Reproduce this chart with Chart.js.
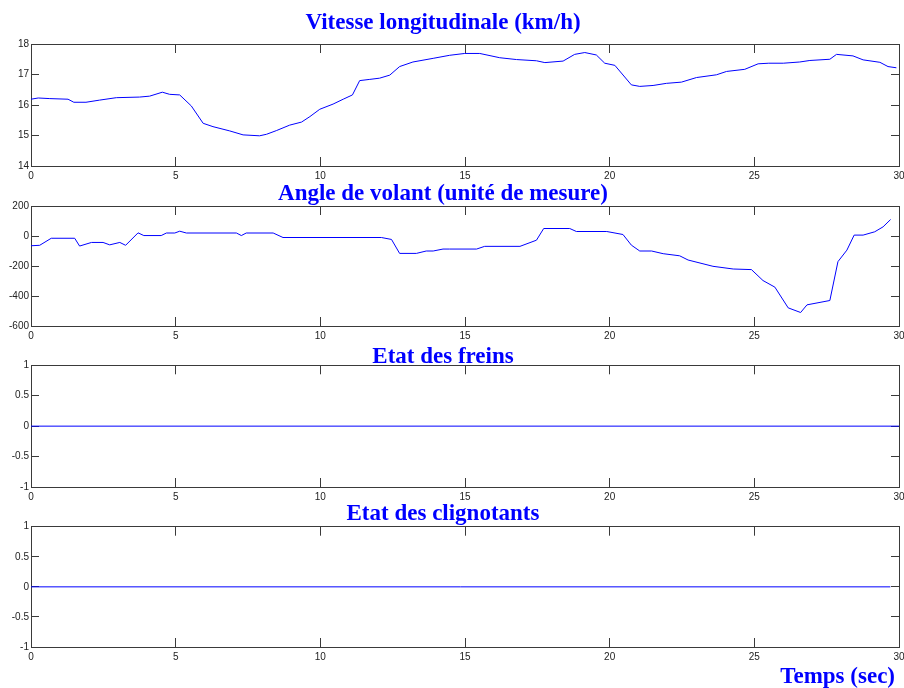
<!DOCTYPE html>
<html lang="fr">
<head>
<meta charset="UTF-8">
<title>Vitesse, volant, freins et clignotants</title>
<script src="https://cdn.jsdelivr.net/npm/chart.js"></script>
<style>
    body {
        margin: 0;
        background: #ffffff;
    }
    #figure {
        position: relative;
        width: 904px;
        height: 688px;
        overflow: hidden;
    }
    #figure canvas {
        position: absolute;
        left: 0;
    }
</style>
</head>
<body>
<div id="figure">
    <canvas id="vitesse" width="904" height="186" style="top:0px"></canvas>
    <canvas id="volant" width="904" height="174" style="top:172px"></canvas>
    <canvas id="freins" width="904" height="177" style="top:330px"></canvas>
    <canvas id="clignotants" width="904" height="199" style="top:490px"></canvas>
</div>

<script>
// temps (s) et vitesse longitudinale (km/h)
const tempsVitesse = [0, 0.25, 0.65, 1.28, 1.48, 1.9, 2.37, 2.95, 3.75, 4.1, 4.54, 4.79, 5.14, 5.54, 5.95, 6.29, 6.87, 7.33, 7.9, 8.14,
    8.48, 8.94, 9.35, 9.64, 9.98, 10.44, 10.79, 11.11, 11.36, 11.71, 12.05, 12.4, 12.74, 13.2, 13.9, 14.47, 14.99, 15.51, 16.2, 16.78,
    17.47, 17.76, 18.39, 18.79, 19.14, 19.54, 19.83, 20.18, 20.75, 21.04, 21.5, 21.96, 22.48, 23.0, 23.69, 24.04, 24.67, 25.13, 25.5, 26.0,
    26.57, 26.92, 27.61, 27.84, 28.41, 28.76, 29.34, 29.62, 29.91];
const vitesse = [16.19, 16.23, 16.21, 16.19, 16.09, 16.09, 16.16, 16.24, 16.26, 16.29, 16.42, 16.35, 16.33, 15.97, 15.40, 15.29, 15.15, 15.02, 14.99, 15.04,
    15.16, 15.34, 15.44, 15.62, 15.86, 16.03, 16.19, 16.33, 16.80, 16.84, 16.88, 16.98, 17.26, 17.41, 17.53, 17.63, 17.69, 17.69, 17.55, 17.49,
    17.45, 17.39, 17.44, 17.66, 17.72, 17.64, 17.37, 17.30, 16.66, 16.61, 16.64, 16.71, 16.75, 16.90, 16.99, 17.10, 17.17, 17.35, 17.37, 17.37,
    17.41, 17.46, 17.50, 17.66, 17.61, 17.48, 17.40, 17.26, 17.22];

// temps (s) et angle de volant
const tempsVolant = [0, 0.3, 0.7, 1.51, 1.68, 2.09, 2.49, 2.72, 3.07, 3.27, 3.7, 3.9, 4.5, 4.68, 4.97, 5.14, 5.37, 7.1, 7.27, 7.44,
    8.37, 8.71, 12.11, 12.46, 12.74, 13.32, 13.66, 13.9, 14.24, 14.47, 15.4, 15.68, 16.9, 17.47, 17.72, 18.62, 18.85, 19.9, 20.46, 20.75,
    21.04, 21.45, 21.85, 22.42, 22.71, 23.57, 24.27, 24.9, 25.3, 25.71, 26.17, 26.6, 26.82, 27.61, 27.89, 28.2, 28.45, 28.76, 29.16, 29.45,
    29.71];
const angleVolant = [-65, -62, -15, -15, -67, -43, -43, -59, -43, -62, 21, 3, 3, 20, 20, 32, 20, 20, 3, 20,
    20, -10, -10, -23, -116, -116, -100, -100, -87, -87, -87, -69, -69, -28, 50, 50, 30, 30, 10, -61,
    -100, -100, -118, -132, -160, -202, -220, -224, -297, -341, -479, -510, -459, -430, -171, -94, 6, 6, 28, 61,
    110];

// freins et clignotants : toujours 0
const tempsFreins = [0, 30];
const etatFreins = [0, 0];
const tempsClignotants = [0, 29.7];
const etatClignotants = [0, 0];

// graduations
const ticksTemps = [0, 5, 10, 15, 20, 25, 30];
const ticksVitesse = [14, 15, 16, 17, 18];
const ticksVolant = [-600, -400, -200, 0, 200];
const ticksEtat = [-1, -0.5, 0, 0.5, 1];

const bleu = '#0000ff';
const gris = '#3a3a3a';
const policeTicks = { family: "'Liberation Sans', Arial, sans-serif", size: 10 };
const policeTitre = { family: "'Liberation Serif', 'Times New Roman', serif", size: 23, weight: 'bold', lineHeight: '14px' };

// le titre est centre un peu a gauche du milieu des axes
const decalageTitre = {
    id: 'decalageTitre',
    afterLayout(chart, args, opts) {
        if (chart.titleBlock) {
            chart.titleBlock.left = 0;
            chart.titleBlock.right = opts.centre * 2;
        }
    }
};

const ticksDe = liste => scale => { scale.ticks = liste.map(v => ({ value: v })); };

function axe(position, graduations, montrer, taille, longueurTick) {
    const horizontal = position === 'top' || position === 'bottom';
    return {
        type: 'linear',
        position: position,
        min: graduations[0],
        max: graduations[graduations.length - 1],
        afterBuildTicks: ticksDe(graduations),
        ticks: {
            display: montrer,
            color: '#222',
            font: policeTicks,
            padding: horizontal ? 13 : 10,
            autoSkip: false,
            maxRotation: 0,
            callback: v => String(v)
        },
        grid: {
            drawOnChartArea: false,
            tickLength: -longueurTick,
            tickColor: gris,
            tickWidth: 1
        },
        border: { color: gris, width: 1 },
        afterFit: scale => {
            if (horizontal) scale.height = taille; else scale.width = taille;
            scale.paddingLeft = 0;
            scale.paddingRight = 0;
            scale.paddingTop = 0;
            scale.paddingBottom = 0;
        }
    };
}

function tracer(id, temps, valeurs, graduationsY, cfg) {
    const points = temps.map((t, i) => ({ x: t, y: valeurs[i] }));
    const axeX = axe('bottom', ticksTemps, true, cfg.hx, 9);
    if (cfg.titreX) {
        axeX.title = {
            display: true,
            text: cfg.titreX,
            color: bleu,
            font: policeTitre,
            align: 'end',
            padding: { top: 0, bottom: 4.7 }
        };
        // "Temps (sec)" s'arrete 4 px avant le bord droit
        const ajuster = axeX.afterFit;
        axeX.afterFit = scale => {
            ajuster(scale);
            const dessin = scale.drawTitle;
            scale.drawTitle = function () {
                const droite = this.right;
                this.right = droite - 4;
                dessin.call(this);
                this.right = droite;
            };
        };
    }
    new Chart(document.getElementById(id), {
        type: 'line',
        data: {
            datasets: [{
                data: points,
                borderColor: bleu,
                borderWidth: 1,
                pointRadius: 0,
                tension: 0,
                fill: false
            }]
        },
        options: {
            responsive: false,
            animation: false,
            events: [],
            layout: { padding: { left: 0, right: 5, top: 0, bottom: 0 } },
            plugins: {
                legend: { display: false },
                tooltip: { enabled: false },
                title: {
                    display: true,
                    text: cfg.titre,
                    color: bleu,
                    font: policeTitre,
                    padding: { top: cfg.pt, bottom: cfg.pb }
                },
                decalageTitre: { centre: 443 }
            },
            scales: {
                x: axeX,
                xHaut: axe('top', ticksTemps, false, 0, 9),
                y: axe('left', graduationsY, true, 31, 8),
                yDroite: axe('right', graduationsY, false, 0, 8)
            }
        },
        plugins: [decalageTitre]
    });
}

tracer('vitesse', tempsVitesse, vitesse, ticksVitesse,
    { titre: 'Vitesse longitudinale (km/h)', pt: 16, pb: 14, hx: 20 });
tracer('volant', tempsVolant, angleVolant, ticksVolant,
    { titre: 'Angle de volant (unité de mesure)', pt: 15.4, pb: 4.6, hx: 20 });
tracer('freins', tempsFreins, etatFreins, ticksEtat,
    { titre: 'Etat des freins', pt: 20, pb: 1.3, hx: 20 });
tracer('clignotants', tempsClignotants, etatClignotants, ticksEtat,
    { titre: 'Etat des clignotants', pt: 17.5, pb: 5.2, hx: 42, titreX: 'Temps (sec)' });
</script>
</body>
</html>
